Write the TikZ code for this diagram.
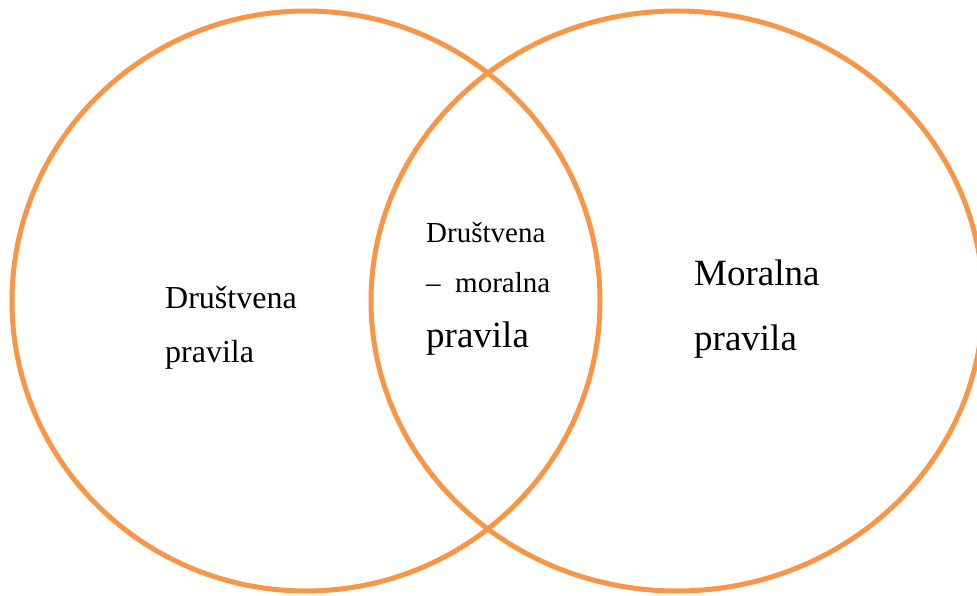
\documentclass[tikz,border=0pt]{standalone}
\usepackage{fontspec}
\setmainfont{Liberation Serif}
\usepackage{tikz}

\definecolor{vennorange}{HTML}{F79646}
\tikzset{
  venncircle/.style={draw=vennorange, line width=5pt},
  vennlabel/.style={anchor=base west, inner sep=0pt}
}

\begin{document}
\begin{tikzpicture}[x=1pt,y=-1pt]
			\useasboundingbox (0,0) rectangle (977,596);
			
			% the two sets
			\draw[venncircle] (306,301) ellipse [x radius=294, y radius=290];
			\draw[venncircle] (677,301) ellipse [x radius=306, y radius=290];
			
			% left part
			\node[vennlabel] (lefta) at (165,308) {\fontsize{32}{38}\selectfont Društvena};
			\node[vennlabel] (leftb) at (165,362) {\fontsize{32}{38}\selectfont pravila};
			
			% overlap
			\node[vennlabel] (mida) at (426,243) {\fontsize{29}{35}\selectfont Društvena};
			\node[vennlabel] (midb) at (426,292) {\fontsize{29}{35}\selectfont \textendash\ \ moralna};
			\node[vennlabel] (midc) at (426,347) {\fontsize{37}{44}\selectfont pravila};
			
			% right part
			\node[vennlabel] (righta) at (694,285) {\fontsize{37}{44}\selectfont Moralna};
			\node[vennlabel] (rightb) at (694,350) {\fontsize{37}{44}\selectfont pravila};
		\end{tikzpicture}
\end{document}
